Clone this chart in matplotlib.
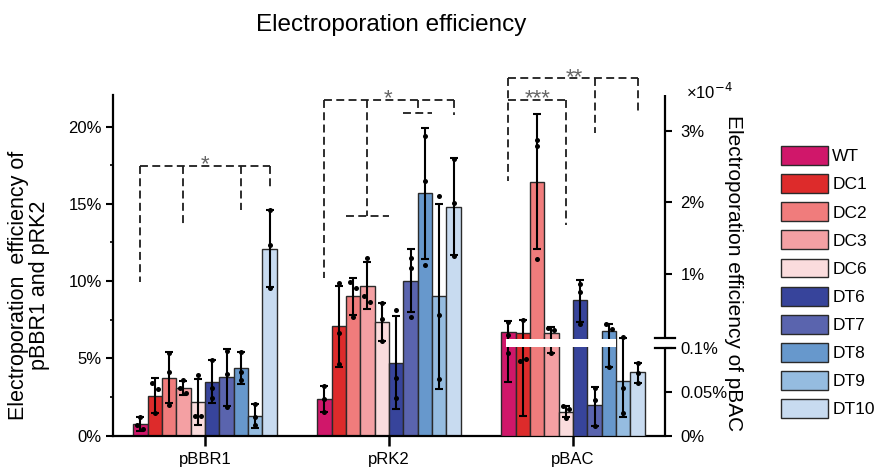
import numpy as np
import matplotlib
matplotlib.use("Agg")
import matplotlib.pyplot as plt
import matplotlib.transforms as mtransforms
from matplotlib.patches import Patch
from matplotlib.ticker import NullLocator

plt.rcParams['font.family'] = ['Liberation Sans', 'DejaVu Sans']

# ---------------- data ----------------
plasmids = ['pBBR1', 'pRK2', 'pBAC']
strains = ['WT', 'DC1', 'DC2', 'DC3', 'DC6', 'DT6', 'DT7', 'DT8', 'DT9', 'DT10']
colors = ['#D0176A', '#DD2B2B', '#F07C7C', '#F4A0A3', '#FADCDD',
          '#37449B', '#5A64AE', '#6798CC', '#95BCE0', '#C8DBF0']

# pBBR1 (left axis, %)
pbbr1_mean = [0.77, 2.58, 3.73, 3.09, 2.15, 3.48, 3.76, 4.38, 1.29, 12.1]
pbbr1_sd = [0.45, 1.11, 1.65, 0.45, 1.5, 1.38, 1.85, 1.02, 0.78, 2.5]
pbbr1_dots = [[1.22, 0.65, 0.45], [3.37, 3.0, 1.44], [5.36, 4.08, 1.97],
              [3.58, 3.05, 2.73], [3.9, 1.29, 1.29], [4.87, 3.09, 2.45],
              [5.46, 3.95, 1.87], [5.4, 4.08, 3.58], [2.02, 1.22, 0.69],
              [14.57, 12.34, 9.53]]

# pRK2 (left axis, %)
prk2_mean = [2.36, 7.06, 9.01, 9.7, 7.34, 4.72, 10.02, 15.67, 9.01, 14.81]
prk2_sd = [0.85, 2.64, 1.2, 1.53, 1.25, 3.0, 2.02, 4.25, 6.0, 3.12]
prk2_dots = [[3.22, 2.36, 1.55], [9.87, 6.65, 4.66], [9.91, 9.53, 7.68],
             [11.52, 9.01, 8.67], [8.58, 7.51, 6.09], [8.15, 3.69, 2.4],
             [11.52, 10.82, 7.68], [19.4, 16.5, 11.03], [15.49, 7.81, 3.65],
             [17.9, 15.02, 11.59]]

# pBAC (right, broken axis)
pbac_mean = [0.181, 0.168, 2.285, 0.168, 0.027, 0.625, 0.0347, 0.191, 0.0623, 0.0725]
pbac_err_low = [0.061, 0.022, 1.34, 0.094, 0.021, 0.32, 0.0108, 0.078, 0.0214, 0.0593]
pbac_err_high = [0.336, 0.354, 3.24, 0.252, 0.0335, 0.915, 0.0548, 0.29, 0.105, 0.0827]
pbac_dots = [[0.322, 0.135, 0.094], [0.354, 0.085, 0.087], [2.88, 2.79, 1.20],
             [0.244, 0.205, 0.094], [0.033, 0.030, 0.0195], [0.86, 0.74, 0.29],
             [0.054, 0.040, 0.011], [0.29, 0.23, 0.0775], [0.111, 0.0536, 0.026],
             [0.0822, 0.0714, 0.06]]

left_ticks = [0, 5, 10, 15, 20]
left_minor = [2.5, 7.5, 12.5, 17.5]
right_ticks = [0, 0.05, 0.1, 1, 2, 3]
right_labels = ['0%', '0.05%', '0.1%', '1%', '2%', '3%']

# significance brackets: (group, top %, [(strain index, bottom %)], star text, star index)
brackets = [
    (0, 17.44, [(0, 9.95), (3, 13.5), (7, 14.6), (9, 16.1)], '*', 4.5),
    (1, 21.7, [(0, 10.2), (3, 14.2), (6.5, 20.85), (9, 20.75)], '*', 4.45),
    (2, 23.12, [(0, 16.5), (6, 19.6), (9, 20.96)], '**', 4.6),
    (2, 21.7, [(0, 21.7), (4, 13.6)], '***', 2.05),
]
# horizontal sub-bars: (group, y %, from index, to index)
sub_bars = [(1, 14.2, 1.5, 4.5), (1, 20.85, 5.5, 7.5)]

# ---------------- figure ----------------
W, H = 875, 472
fig = plt.figure(figsize=(W / 100, H / 100), dpi=100)
ax = fig.add_axes([113 / W, 1 - 435.5 / H, 552 / W, 340.5 / H])
ax2 = ax.twinx()

bw = 0.078
ax.set_xlim(-0.5, 2.5)
ax.set_ylim(0, 340.5 / 15.45)

# broken scale for pBAC axis
BRK_V = [-10.0, 0.0, 0.1, 0.105, 100.0]
BRK_H = [-8800.0, 0.0, 88.0, 98.0, 98.0 + (100 - 0.105) * 71.3]


def fwd(v):
    return np.interp(np.asarray(v, dtype=float), BRK_V, BRK_H)


def inv(h):
    return np.interp(np.asarray(h, dtype=float), BRK_H, BRK_V)


ax2.set_yscale('function', functions=(fwd, inv))
ax2.set_ylim(0, float(inv(340.5)))


def xpos(g, i):
    return g + (i - 4.5) * bw


def dot_offsets(a, vals):
    ys = a.transData.transform(np.column_stack([np.zeros(len(vals)), vals]))[:, 1]
    offs = np.zeros(len(vals))
    for i in range(len(vals)):
        for j in range(i + 1, len(vals)):
            if abs(ys[i] - ys[j]) < 6 and offs[i] == 0 and offs[j] == 0:
                offs[i], offs[j] = -1, 1
    return offs * 3.0 / 184


edge = '#2a2a2a'
for g, (means, dots, a) in enumerate([(pbbr1_mean, pbbr1_dots, ax),
                                      (prk2_mean, prk2_dots, ax),
                                      (pbac_mean, pbac_dots, ax2)]):
    for i in range(10):
        x = xpos(g, i)
        a.bar(x, means[i], bw, color=colors[i], edgecolor=edge, linewidth=1.0, zorder=2)
        if g == 0:
            yerr = [[pbbr1_sd[i]], [pbbr1_sd[i]]]
        elif g == 1:
            yerr = [[prk2_sd[i]], [prk2_sd[i]]]
        else:
            yerr = [[means[i] - pbac_err_low[i]], [pbac_err_high[i] - means[i]]]
        a.errorbar([x], [means[i]], yerr=yerr, fmt='none', ecolor='black',
                   elinewidth=1.5, capsize=2.7, capthick=1.5, zorder=3)
        offs = dot_offsets(a, dots[i])
        a.scatter(x + offs, dots[i], s=13, color='black', zorder=4, linewidths=0)

# white band at the axis break across pBAC bars
ax2.fill_between([xpos(2, 0) - 0.012, xpos(2, 7) + bw / 2 + 0.002],
                 float(inv(88.5)), float(inv(96.5)), color='white', lw=0, zorder=6)

# ---------------- axes styling ----------------
for s in ['top', 'right']:
    ax.spines[s].set_visible(False)
for s in ['top', 'right', 'left', 'bottom']:
    ax2.spines[s].set_visible(False)
ax.spines['left'].set_linewidth(1.6)
ax.spines['bottom'].set_linewidth(1.6)

ax.set_yticks(left_ticks)
ax.set_yticklabels([f'{t}%' for t in left_ticks])
ax.set_yticks(left_minor, minor=True)
ax.tick_params(axis='y', which='major', direction='out', length=5, width=1.5,
               labelsize=12, pad=3)
ax.tick_params(axis='y', which='minor', direction='out', length=2.5, width=1.2)
ax.set_xticks([0, 1, 2])
ax.set_xticklabels(plasmids)
ax.tick_params(axis='x', direction='out', length=7, width=1.8, labelsize=12, pad=5)

ax2.set_yticks(right_ticks)
ax2.set_yticklabels(right_labels)
ax2.yaxis.set_minor_locator(NullLocator())
ax2.tick_params(axis='y', direction='out', length=5, width=1.5, labelsize=12, pad=6)

# broken right spine
trans = mtransforms.blended_transform_factory(ax2.transAxes, ax2.transData)
ytop = float(inv(340.5))
ax2.plot([1, 1], [0, 0.1], transform=trans, color='black', lw=1.6,
         clip_on=False, solid_capstyle='butt', zorder=7)
ax2.plot([1, 1], [0.105, ytop], transform=trans, color='black', lw=1.6,
         clip_on=False, solid_capstyle='butt', zorder=7)
for yb in [0.1, 0.105]:
    ax2.plot([1 - 10 / 552, 1 + 10 / 552], [yb, yb], transform=trans,
             color='black', lw=1.6, clip_on=False, zorder=7)

# ---------------- significance brackets ----------------
dash = dict(color='#1e1e1e', lw=1.3, ls=(0, (4.4, 2.4)), clip_on=False, zorder=5)
for g, top, legs, star, si in brackets:
    xs = [xpos(g, i) for i, _ in legs]
    ax.plot([min(xs), max(xs)], [top, top], **dash)
    for (i, bot) in legs:
        ax.plot([xpos(g, i), xpos(g, i)], [top, bot], **dash)
    ax.annotate(star, (xpos(g, si), top), xytext=(0, -3.2), textcoords='offset points',
                ha='center', va='baseline', fontsize=16, color='#666666',
                annotation_clip=False)
for g, y, i0, i1 in sub_bars:
    ax.plot([xpos(g, i0), xpos(g, i1)], [y, y], **dash)

# ---------------- texts ----------------
fig.text(391 / W, 1 - 31 / H, 'Electroporation efficiency', ha='center',
         va='baseline', fontsize=17.5)
fig.text(29 / W, 1 - 285 / H, 'Electroporation  efficiency of\npBBR1 and pRK2',
         rotation=90, ha='center', va='center', multialignment='center',
         fontsize=15.5, linespacing=1.0)
fig.text(733 / W, 1 - 273.5 / H, 'Electroporation efficiency of pBAC',
         rotation=270, ha='center', va='center', fontsize=15)
fig.text(686 / W, 1 - 99 / H, '×10$^{-4}$', ha='left', va='baseline', fontsize=12)

handles = [Patch(facecolor=c, edgecolor=edge, linewidth=1.0) for c in colors]
fs = 12.5
fpx = fs * 100 / 72
fig.legend(handles, strains, loc='upper left', bbox_to_anchor=(781 / W, 1 - 146 / H),
           frameon=False, fontsize=fs, handlelength=47 / fpx,
           handleheight=1.3, handletextpad=0.25,
           labelspacing=0.53, borderpad=0, borderaxespad=0)

fig.savefig('out.png', dpi=100)
